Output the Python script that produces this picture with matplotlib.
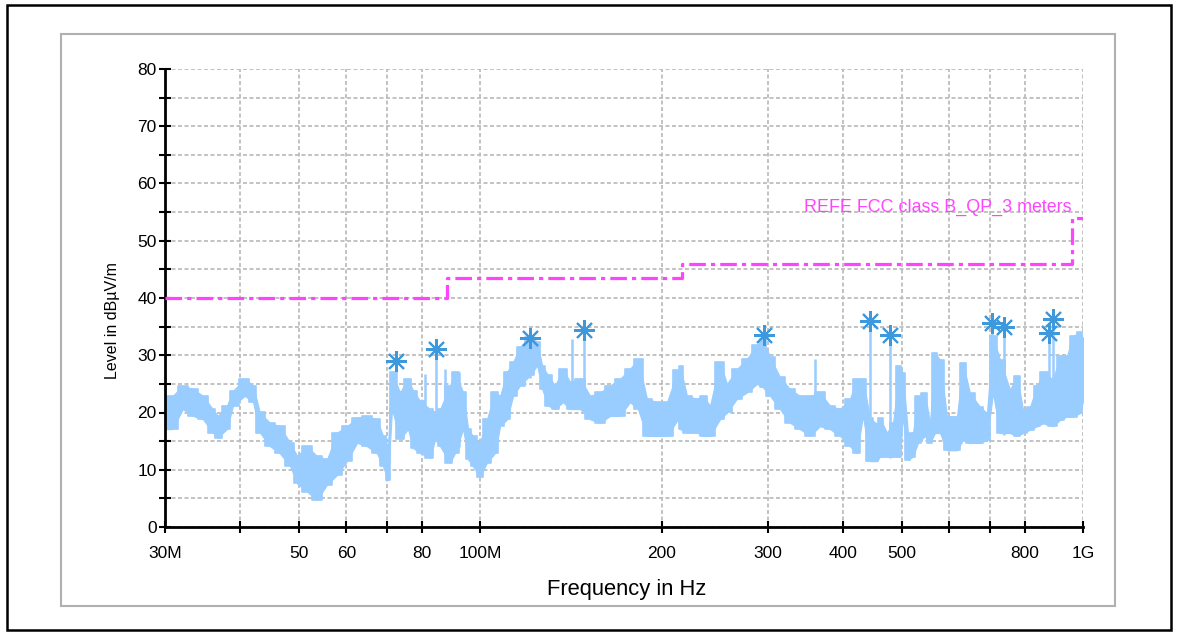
import matplotlib
matplotlib.use('Agg')
import matplotlib.pyplot as plt
from matplotlib.patches import Rectangle
from matplotlib.ticker import FixedLocator, NullLocator

plt.rcParams['font.family'] = ['Liberation Sans', 'DejaVu Sans']

# ---------------- data (MHz, dBuV/m) ----------------
trace_f = [30.0, 30.9, 32.1, 33.4, 34.7, 36.0, 36.7, 38.0, 38.9, 40.7, 42.0, 43.1, 44.8, 46.5,
           48.4, 49.7, 51.6, 53.6, 55.7, 57.9, 60.1, 62.5, 64.9, 67.4, 69.0, 70.3, 71.4, 73.6, 75.9,
           77.4, 79.5, 82.6, 84.2, 85.8, 89.1, 90.8, 93.7, 95.5, 97.3, 99.9, 102.6, 105.8, 107.9,
           110.8, 113.4, 116.4, 121.0, 124.3, 126.7, 129.6, 133.1, 137.2, 141.0, 146.5, 152.2,
           158.1, 164.2, 170.6, 177.2, 182.7, 189.1, 196.5, 204.1, 212.9,
           214.5, 220.3, 228.9, 234.2, 240.6, 249.9, 256.7, 266.7, 277.1, 287.9, 294.5, 302.5,
           314.3, 326.5, 339.2, 352.4, 366.1, 380.4, 395.2, 410.6, 421.7, 431.5, 443.2, 455.2,
           460.4, 472.9, 483.9, 497.0, 502.7, 512.4, 522.3, 532.4, 546.8, 557.4, 568.1, 579.1,
           594.8, 617.9, 632.2, 649.4, 674.7, 692.9, 709.0, 728.3, 756.7, 777.2, 795.2, 816.7,
           838.9, 858.3, 891.7, 916.0, 940.8, 962.6, 988.7, 1000.0]
trace_hi = [22.9, 22.9, 24.7, 24.1, 22.9, 20.6, 19.4, 21.2, 23.8, 25.9, 24.7, 20.0, 18.2, 17.6,
            14.7, 12.4, 14.1, 12.4, 11.8, 16.5, 17.6, 19.1, 19.4, 18.8, 15.9, 14.1, 27.1, 23.5, 25.9,
            23.8, 22.0, 20.6, 20.0, 20.6, 24.7, 27.1, 23.5, 17.1, 15.9, 14.7, 18.8, 23.5, 22.9,
            27.1, 28.8, 31.5, 33.2, 32.4, 28.2, 26.5, 24.7, 27.6, 25.3, 25.9, 22.9,
            23.5, 24.7, 25.9, 27.6, 29.4, 22.4, 21.8, 21.8, 27.4,
            28.2, 22.9, 22.4, 22.9, 21.2, 28.8, 25.0, 27.6, 29.4, 31.8, 32.9, 29.7,
            26.2, 24.1, 22.9, 22.9, 23.5, 21.2, 20.6, 22.4, 25.9, 25.9, 19.0, 18.0,
            19.0, 16.5, 18.1, 28.1, 26.9, 16.4, 16.4, 22.8, 23.4, 18.1, 30.4, 29.2,
            19.3, 19.3, 28.6, 23.4, 21.0, 19.9, 33.4, 29.2, 24.0, 26.4, 20.5, 21.0,
            24.6, 27.0, 25.8, 29.9, 29.9, 33.4, 34.0, 33.0]
trace_lo = [17.1, 17.1, 20.6, 19.4, 18.8, 16.5, 15.6, 17.1, 21.2, 22.9, 21.8, 16.5, 14.1, 12.9,
            10.6, 7.6, 6.2, 4.7, 7.4, 9.1, 11.5, 14.7, 14.1, 12.9, 10.6, 8.2, 20.6, 15.3, 17.1,
            13.8, 12.9, 12.1, 15.3, 14.1, 11.2, 12.9, 17.1, 11.8, 10.6, 8.8, 11.2, 12.9, 17.6,
            18.8, 22.9, 24.7, 26.5, 28.2, 24.1, 21.2, 20.6, 21.8, 20.6, 20.6, 18.8,
            18.2, 19.4, 19.4, 21.8, 20.6, 15.9, 15.9, 15.9, 18.8,
            17.1, 16.5, 16.5, 15.9, 15.9, 18.8, 20.0, 22.4, 23.5, 25.0, 24.4, 22.9,
            20.6, 18.2, 17.1, 15.9, 17.6, 17.1, 15.9, 14.1, 12.9, 19.4, 11.5, 11.5,
            12.3, 12.3, 12.3, 12.3, 19.3, 11.7, 12.3, 14.7, 15.9, 14.7, 16.4, 16.4,
            13.4, 13.4, 15.2, 14.7, 14.7, 15.2, 23.4, 16.4, 16.4, 15.9, 16.4, 17.0,
            17.6, 18.1, 17.6, 18.7, 19.3, 19.3, 19.9, 22.0]

spike_f = [75.9, 81.0, 87.4, 92.2, 142.0, 359.0, 568.0, 632.0]
spike_lo = [17.0, 14.0, 14.0, 14.0, 21.0, 17.0, 17.0, 15.0]
spike_hi = [25.9, 26.8, 27.6, 27.1, 32.9, 29.4, 30.4, 28.6]

marker_f = [72.5, 84.5, 121.0, 148.7, 295.7, 443.0, 478.5, 706.0, 739.6, 878.0, 891.6]
marker_lv = [29.0, 31.1, 33.0, 34.4, 33.5, 36.0, 33.5, 35.6, 34.9, 33.9, 36.3]
marker_base = [20.0, 15.0, 26.0, 22.0, 25.0, 12.0, 12.0, 23.0, 16.0, 18.0, 18.0]

limit_f = [30, 88, 88, 216, 216, 960, 960, 1000]
limit_v = [40, 40, 43.5, 43.5, 46, 46, 54, 54]
limit_label = 'REFE FCC class B_QP_3 meters'

xticks = [30, 40, 50, 60, 70, 80, 100, 200, 300, 400, 500, 600, 700, 800, 1000]
xticklabels = ['30M', '', '50', '60', '', '80', '100M', '200', '300', '400', '500', '', '', '800', '1G']
yticks = list(range(0, 81, 5))
yticklabels = [str(v) if v % 10 == 0 else '' for v in yticks]

# ---------------- figure ----------------
W, H = 1178, 635
fig = plt.figure(figsize=(W / 100, H / 100), dpi=100)

def fx(px):
    return px / W

def fy(py):
    return 1 - py / H

# frames
fig.patches.append(Rectangle((fx(7), fy(630)), fx(1171) - fx(7), fy(5) - fy(630),
                             transform=fig.transFigure, fill=False, ec='black', lw=1.8))
fig.patches.append(Rectangle((fx(61), fy(606)), fx(1115) - fx(61), fy(34) - fy(606),
                             transform=fig.transFigure, fill=False, ec='#B0B0B0', lw=1.5))

ax = fig.add_axes([fx(165), fy(527), fx(1083) - fx(165), fy(69) - fy(527)])
ax.set_xscale('log')
ax.set_xlim(30, 1000)
ax.set_ylim(0, 80)
ax.set_axisbelow(True)

trace_col = '#99CCFF'
ax.fill_between(trace_f, trace_lo, trace_hi, step='mid', color=trace_col, lw=1.2,
                edgecolor=trace_col, zorder=2)
ax.fill_between(trace_f, trace_lo, trace_hi, color=trace_col, lw=0.8,
                edgecolor=trace_col, zorder=2)
ax.vlines(spike_f, spike_lo, spike_hi, color=trace_col, lw=1.8, zorder=2)
ax.vlines(marker_f, marker_base, marker_lv, color=trace_col, lw=1.8, zorder=2)
ax.plot(marker_f, marker_lv, ls='none', marker=(8, 2, 0), ms=15, mec='#3D98DC', mew=1.5, zorder=4)

mag = '#FF44FF'
ax.plot(limit_f, limit_v, color=mag, lw=2.3, ls=(0, (5.2, 1.6, 1.3, 1.6)), zorder=3)
fig.text(fx(1071), fy(207), limit_label, ha='right', va='center', fontsize=12.9, color=mag)

ax.xaxis.set_major_locator(FixedLocator(xticks))
ax.xaxis.set_minor_locator(NullLocator())
ax.set_xticklabels(xticklabels)
ax.yaxis.set_major_locator(FixedLocator(yticks))
ax.yaxis.set_minor_locator(NullLocator())
ax.set_yticklabels(yticklabels)
ax.tick_params(axis='both', direction='inout', length=8, width=1.5, labelsize=12.5, colors='black')
ax.tick_params(axis='x', pad=10)
ax.tick_params(axis='y', pad=2)

ax.grid(True, color='#BDBDBD', ls=(0, (2.2, 1.4)), lw=1.3)
for s in ['top', 'right']:
    ax.spines[s].set_visible(False)
for s in ['left', 'bottom']:
    ax.spines[s].set_linewidth(2)

fig.text(fx(627), fy(589), 'Frequency in Hz', ha='center', va='center', fontsize=15.8)
fig.text(fx(112), fy(321), 'Level in dBµV/m', ha='center', va='center', rotation=90, fontsize=11.5)

fig.savefig('out.png', dpi=100)
